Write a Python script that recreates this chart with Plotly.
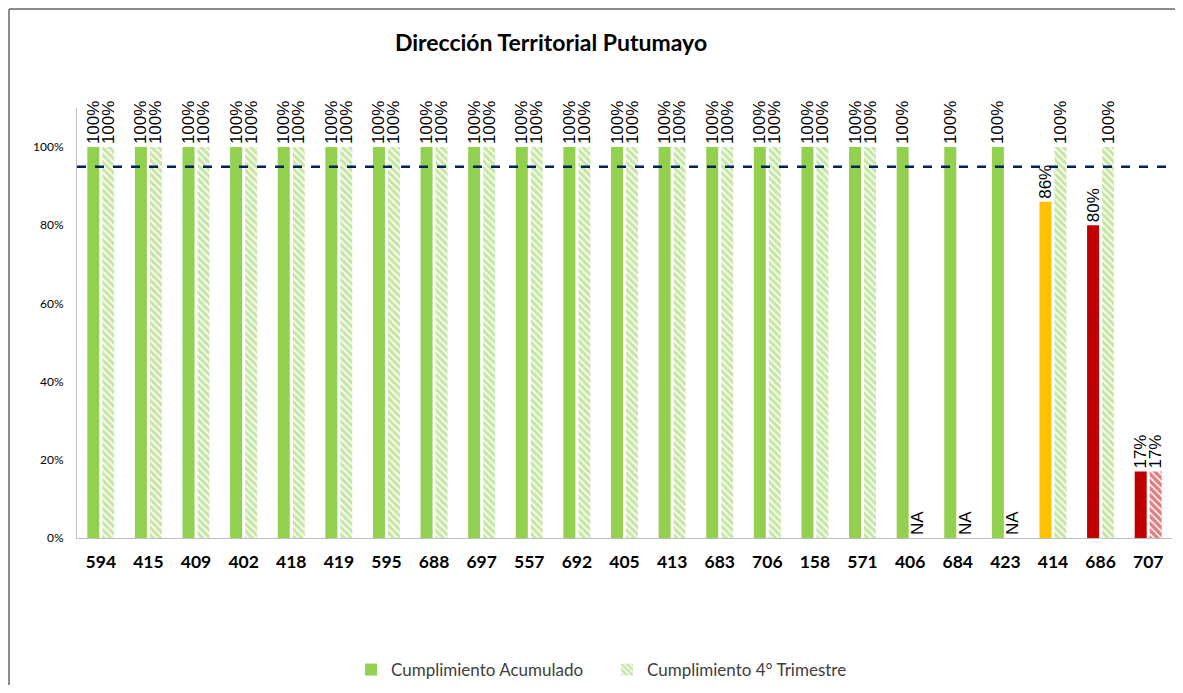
import plotly.graph_objects as go

categories = ["594", "415", "409", "402", "418", "419", "595", "688", "697", "557", "692",
              "405", "413", "683", "706", "158", "571", "406", "684", "423", "414", "686", "707"]
acumulado = [1.0] * 20 + [0.86, 0.80, 0.17]
trimestre = [1.0] * 17 + [None, None, None] + [1.0, 1.0, 0.17]
acum_colors = ["#92D050"] * 20 + ["#FFC000", "#C00000", "#C00000"]
trim_colors = ["#92D050"] * 22 + ["#C00000"]
meta = 0.95

trim_y = [v if v is not None else 0 for v in trimestre]
trim_text = [f"{round(v*100)}%" if v is not None else "NA" for v in trimestre]
acum_text = [f"{round(v*100)}%" for v in acumulado]

label_font = dict(family="Liberation Sans, Arial", size=17, color="#000000")
cal = "Lato, Open Sans, sans-serif"

fig = go.Figure()
fig.add_trace(go.Bar(
    x=categories, y=acumulado, name="Cumplimiento Acumulado",
    marker=dict(color=acum_colors, line=dict(width=0)),
    text=acum_text, textposition="outside", textangle=-90,
    textfont=label_font, constraintext="none", cliponaxis=False,
))
fig.add_trace(go.Bar(
    x=categories, y=trim_y, name="Cumplimiento 4° Trimestre",
    marker=dict(color="rgba(0,0,0,0)", line=dict(width=0),
                pattern=dict(shape="\\", fgcolor=trim_colors, bgcolor="white",
                             size=5, solidity=0.7)),
    text=trim_text, textposition="outside", textangle=-90,
    textfont=label_font, constraintext="none", cliponaxis=False,
))

fig.add_shape(type="line", xref="paper", yref="y", x0=0, x1=1, y0=meta, y1=meta,
              line=dict(color="#002060", width=2.5, dash="dash"))

W, H = 1167, 677
L, R, T, B = 69, 3, 100, 147
fig.update_layout(
    width=W, height=H,
    paper_bgcolor="white", plot_bgcolor="white",
    title=dict(text="<b>Dirección Territorial Putumayo</b>", x=543 / W, xanchor="center",
               y=1 - 35 / H, yanchor="middle",
               font=dict(family=cal, size=23, color="#000000")),
    margin=dict(l=L, r=R, t=T, b=B, autoexpand=False),
    barmode="group", bargap=0.37, bargroupgap=0.2,
    showlegend=True,
    legend=dict(orientation="h", xref="container", yref="container",
                x=599 / W, xanchor="center", y=1 - 662 / H, yanchor="middle",
                font=dict(family=cal, size=17, color="#404040"),
                itemwidth=30, entrywidth=211, traceorder="normal"),
    xaxis=dict(type="category", showline=True, linecolor="#BFBFBF", linewidth=1,
               ticks="", showgrid=False, ticklabelstandoff=8, automargin=False,
               tickfont=dict(family=cal, size=17.5, color="#000000"),
               tickprefix="<b>", ticksuffix="</b>"),
    yaxis=dict(range=[0, 1.1], tickvals=[0, 0.2, 0.4, 0.6, 0.8, 1.0],
               tickformat=".0%", showgrid=False, zeroline=False, automargin=False,
               showline=True, linecolor="#BFBFBF", linewidth=1, ticks="",
               tickfont=dict(family=cal, size=12, color="#000000"),
               tickprefix="<b>", ticksuffix="</b>", ticklabelstandoff=10),
)

# chart frame (top and left edges visible)
plot_w, plot_h = W - L - R, H - T - B
fig.add_shape(type="line", xref="paper", yref="paper",
              x0=(1 - L) / plot_w, x1=(W - L) / plot_w,
              y0=1 + (T - 1) / plot_h, y1=1 + (T - 1) / plot_h,
              line=dict(color="#8C8C8C", width=2))
fig.add_shape(type="line", xref="paper", yref="paper",
              x0=(1 - L) / plot_w, x1=(1 - L) / plot_w,
              y0=1 + (T - 1) / plot_h, y1=-B / plot_h,
              line=dict(color="#8C8C8C", width=2))

fig.write_html("out.html")
